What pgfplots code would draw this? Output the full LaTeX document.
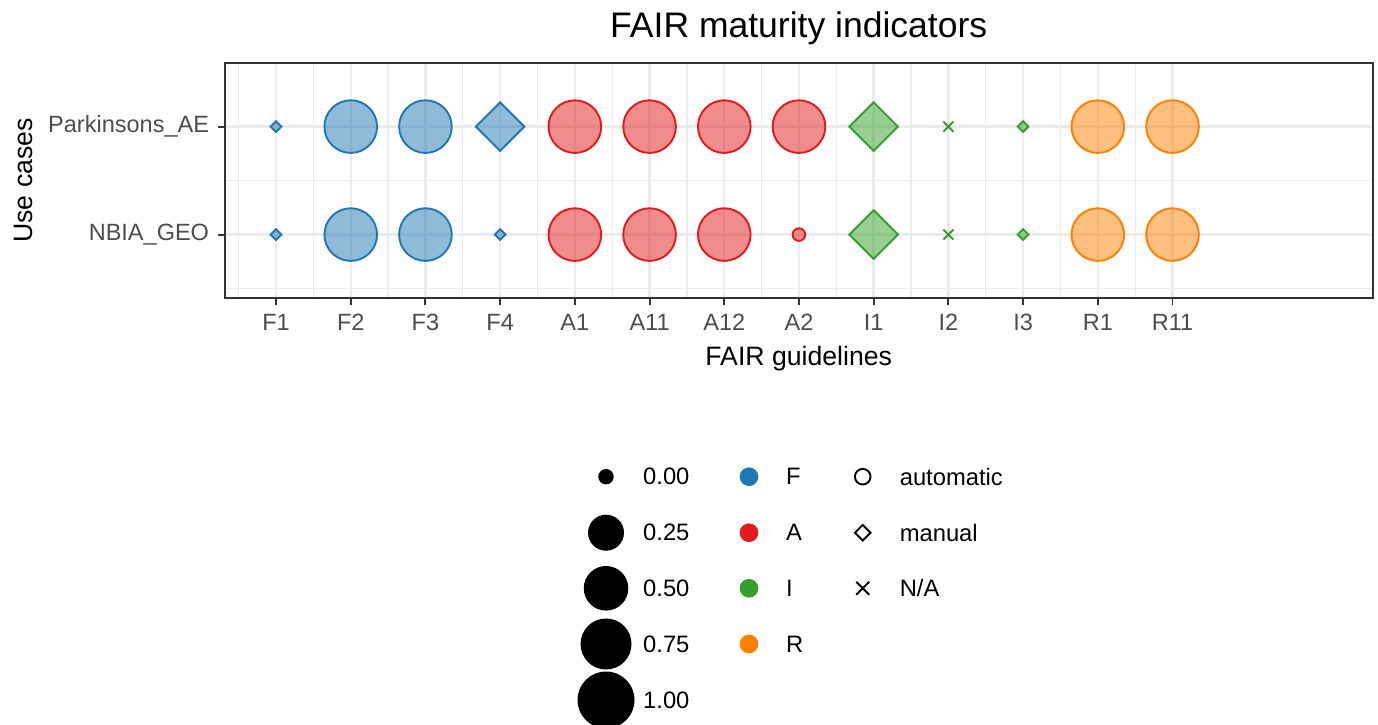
\documentclass[border=0pt]{standalone}
\usepackage{pgfplots}
\pgfplotsset{compat=1.18}
\usepackage{fontspec}
\setmainfont{Liberation Sans}
\definecolor{cF}{HTML}{1F78B4}
\definecolor{cA}{HTML}{E31A1C}
\definecolor{cI}{HTML}{33A02C}
\definecolor{cR}{HTML}{FF7F00}
\definecolor{gridc}{HTML}{EBEBEB}
\definecolor{tickc}{HTML}{4D4D4D}
\definecolor{framec}{HTML}{333333}
\pgfplotsset{
  circ/.style={only marks, mark=*, mark options={draw=#1, fill=#1, fill opacity=0.5, line width=0.8pt}},
  diam/.style={only marks, mark=square*, mark options={draw=#1, fill=#1, fill opacity=0.5, line width=0.8pt, rotate=45}},
  crs/.style={only marks, mark=x, mark options={draw=#1, line width=0.8pt}},
}
\begin{document}
\begin{tikzpicture}
\useasboundingbox (0,0) rectangle (574.17pt,302.08pt);
% main panel
\begin{axis}[
  at={(93.63pt,177.79pt)}, anchor=south west,
  scale only axis, width=478.33pt, height=98.21pt,
  xmin=0.313, xmax=15.68, ymin=0.41, ymax=2.593,
  xtick={1,...,13},
  xticklabels={F1,F2,F3,F4,A1,A11,A12,A2,I1,I2,I3,R1,R11},
  minor xtick={0.5,1.5,...,12.5},
  ytick={1,2}, yticklabels={NBIA\_GEO,Parkinsons\_AE},
  minor ytick={0.5,1.5},
  grid=both,
  major grid style={gridc, line width=1pt},
  minor grid style={gridc, line width=0.5pt},
  tick align=outside, tick pos=left,
  major tick length=3pt, minor tick length=0pt,
  major tick style={framec, line width=0.8pt},
  axis line style={framec, line width=0.8pt},
  ticklabel style={font=\fontsize{9.8pt}{11pt}\selectfont, text=tickc},
  every axis title shift=0pt,
  title={FAIR maturity indicators},
  title style={at={(axis description cs:0.5,1)}, anchor=base, yshift=10.4pt, font=\fontsize{14.8pt}{17pt}\selectfont, inner sep=0pt},
  xlabel={FAIR guidelines},
  xlabel style={at={(axis description cs:0.5,0)}, anchor=base, yshift=-28.0pt, font=\fontsize{11.1pt}{13pt}\selectfont, inner sep=0pt},
  ylabel={Use cases},
  ylabel style={at={(axis description cs:-0.1671,0.5)}, anchor=base, font=\fontsize{11.1pt}{13pt}\selectfont, inner sep=0pt},
]
% F
\addplot[circ=cF, mark size=10.96pt] coordinates {(2,1) (3,1) (2,2) (3,2)};
\addplot[diam=cF, mark size=1.58pt] coordinates {(1,1) (1,2) (4,1)};
\addplot[diam=cF, mark size=7.16pt] coordinates {(4,2)};
% A
\addplot[circ=cA, mark size=10.96pt] coordinates {(5,1) (6,1) (7,1) (5,2) (6,2) (7,2) (8,2)};
\addplot[circ=cA, mark size=2.63pt] coordinates {(8,1)};
% I
\addplot[diam=cI, mark size=7.16pt] coordinates {(9,1) (9,2)};
\addplot[crs=cI, mark size=2.95pt] coordinates {(10,1) (10,2)};
\addplot[diam=cI, mark size=1.58pt] coordinates {(11,1) (11,2)};
% R
\addplot[circ=cR, mark size=10.96pt] coordinates {(12,1) (13,1) (12,2) (13,2)};
\end{axis}
% legend canvas in pixel coordinates
\begin{axis}[
  at={(0pt,0pt)}, anchor=south west,
  scale only axis, width=574.17pt, height=302.08pt,
  xmin=0, xmax=1378, ymin=0, ymax=725, y dir=reverse,
  hide axis, clip=false,
]
% size legend
\addplot[only marks, mark=*, black, mark size=3.0pt] coordinates {(606,476.7)};
\addplot[only marks, mark=*, black, mark size=7.29pt] coordinates {(606,532.7)};
\addplot[only marks, mark=*, black, mark size=9.08pt] coordinates {(606,588.3)};
\addplot[only marks, mark=*, black, mark size=10.42pt] coordinates {(606,644)};
\addplot[only marks, mark=*, black, mark size=11.67pt] coordinates {(606,700)};
% colour legend
\addplot[only marks, mark=*, mark size=3.68pt, cF] coordinates {(749,476.7)};
\addplot[only marks, mark=*, mark size=3.68pt, cA] coordinates {(749,532.7)};
\addplot[only marks, mark=*, mark size=3.68pt, cI] coordinates {(749,588.3)};
\addplot[only marks, mark=*, mark size=3.68pt, cR] coordinates {(749,644)};
% shape legend
\addplot[only marks, mark=o, mark size=3.25pt, black, mark options={line width=0.8pt}] coordinates {(862.7,476.7)};
\addplot[only marks, mark=square, mark size=2.3pt, black, mark options={line width=0.8pt, rotate=45}] coordinates {(862.7,532.7)};
\addplot[only marks, mark=x, mark size=3.83pt, black, mark options={line width=0.8pt}] coordinates {(862.7,588.3)};
\begin{scope}[every node/.style={anchor=west, inner sep=0pt, font=\fontsize{9.9pt}{12pt}\selectfont}]
\node at (axis cs:642.7,476.7) {0.00};
\node at (axis cs:642.7,532.7) {0.25};
\node at (axis cs:642.7,588.3) {0.50};
\node at (axis cs:642.7,644) {0.75};
\node at (axis cs:642.7,700) {1.00};
\node at (axis cs:785.7,476.7) {F};
\node at (axis cs:785.7,532.7) {A};
\node at (axis cs:785.7,588.3) {I};
\node at (axis cs:785.7,644) {R};
\node at (axis cs:899.3,476.7) {automatic};
\node at (axis cs:899.3,532.7) {manual};
\node at (axis cs:899.3,588.3) {N/A};
\end{scope}
\end{axis}
\end{tikzpicture}
\end{document}
